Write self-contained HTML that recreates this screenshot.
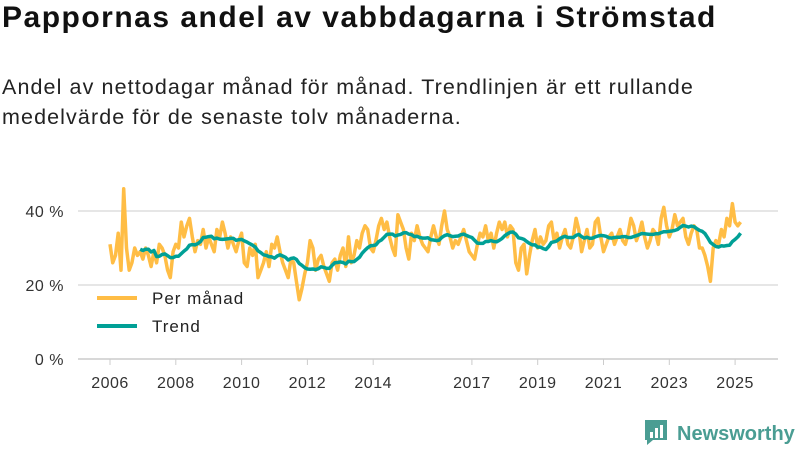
<!DOCTYPE html>
<html><head><meta charset="utf-8"><style>
body{margin:0;width:800px;height:450px;background:#fff;font-family:"Liberation Sans",sans-serif;overflow:hidden;position:relative}
#title{position:absolute;left:2px;top:1px;font-size:30px;font-weight:bold;color:#111;letter-spacing:1.5px;white-space:nowrap}
#sub{position:absolute;left:2px;top:72px;font-size:21.5px;line-height:30px;color:#222;width:770px;letter-spacing:1.1px}
svg{position:absolute;left:0;top:0}
</style></head><body>
<div id="title">Pappornas andel av vabbdagarna i Strömstad</div>
<div id="sub">Andel av nettodagar månad för månad. Trendlinjen är ett rullande<br>medelvärde för de senaste tolv månaderna.</div>
<svg id="chart" width="800" height="450"></svg>
<script>
const startYear = 2006;
const monthly = [
31,26,28,34,24,46,30,24,26,30,28,29,
27,30,28,25,29,26,31,30,28,24,22,29,
31,30,37,33,36,38,33,29,32,31,35,30,
33,31,29,35,33,37,34,30,33,31,29,32,
34,26,25,30,28,31,22,24,26,29,25,31,
30,33,29,26,24,22,27,26,21,16,19,23,
26,32,30,24,27,28,25,23,21,26,27,24,
28,30,25,33,26,28,32,30,34,36,35,30,
29,32,36,38,35,37,33,30,28,39,37,35,
30,27,34,32,36,33,31,30,29,33,36,33,
31,36,40,35,33,30,32,31,33,35,32,29,
28,27,31,34,33,36,32,34,30,34,37,35,
37,33,36,35,26,24,30,31,23,28,32,35,
30,33,31,32,36,37,32,34,30,33,35,31,
30,33,38,35,29,32,35,30,31,37,38,33,
29,31,33,34,31,33,35,32,31,34,38,36,
32,34,37,33,30,32,35,34,31,38,41,36,
33,35,39,36,37,38,33,31,34,36,35,30,
30,28,25,21,30,32,31,35,33,38,36,42,
37,36,37];
const yTicks = [0,20,40];
const xTickYears = [2006,2008,2010,2012,2014,2017,2019,2021,2023,2025];

const svg = document.getElementById('chart');
const NS = 'http://www.w3.org/2000/svg';
const xScale = t => 110 + (t - 2006) * 32.9;
const yScale = v => 359 - v * 3.7;
function mk(tag, attrs){const e=document.createElementNS(NS,tag);for(const k in attrs)e.setAttribute(k,attrs[k]);svg.appendChild(e);return e;}

yTicks.forEach(v=>{
  const g = mk('line',{x1:78,x2:778,y1:yScale(v),y2:yScale(v),stroke:v===0?'#ccc':'#ddd','stroke-width':1.5});
  
  
  const t = mk('text',{x:64,y:yScale(v)+6,'text-anchor':'end','font-size':16,fill:'#333','letter-spacing':0.5});
  t.textContent = v + ' %';
  
  
});
xTickYears.forEach(y=>{
  const l = mk('line',{x1:xScale(y),x2:xScale(y),y1:359,y2:365,stroke:'#ccc','stroke-width':1});
  
  
  const t = mk('text',{x:xScale(y),y:388,'text-anchor':'middle','font-size':16,fill:'#333','letter-spacing':0.5});
  t.textContent = y;
  
  
});

const mPts = monthly.map((v,i)=>xScale(startYear+i/12).toFixed(1)+','+yScale(v).toFixed(1)).join(' ');
const ml = mk('polyline',{points:mPts,fill:'none',stroke:'#ffbd45','stroke-width':3.5,'stroke-linejoin':'round'});



const tPts = [];
for(let i=11;i<monthly.length;i++){
  let s=0;for(let j=i-11;j<=i;j++)s+=monthly[j];
  tPts.push(xScale(startYear+i/12).toFixed(1)+','+yScale(s/12).toFixed(1));
}
const tl = mk('polyline',{points:tPts.join(' '),fill:'none',stroke:'#00a096','stroke-width':3.5,'stroke-linejoin':'round'});



[['Per månad','#ffbd45',298],['Trend','#00a096',326]].forEach(([lab,c,y])=>{
  const l = mk('line',{x1:97,x2:137,y1:y,y2:y,stroke:c,'stroke-width':4});
  
  
  const t = mk('text',{x:152,y:y+6,'font-size':17,fill:'#222','letter-spacing':1});
  t.textContent = lab;
  
  
});

const logo = mk('g',{});


const r = document.createElementNS(NS,'path');
r.setAttribute('d','M645 420 h22 v20 h-14 l-6 5 v-5 h-2 z');
r.setAttribute('fill','#4a9d93');
logo.appendChild(r);
[[650,432,3,6],[655,428,3,10],[660,425,3,13]].forEach(b=>{
  const e=document.createElementNS(NS,'rect');
  e.setAttribute('x',b[0]);e.setAttribute('y',b[1]);e.setAttribute('width',b[2]);e.setAttribute('height',b[3]);e.setAttribute('fill','#fff');
  logo.appendChild(e);
});
const lt = document.createElementNS(NS,'text');
lt.setAttribute('x',677);lt.setAttribute('y',440);lt.setAttribute('font-size',20);lt.setAttribute('font-weight','bold');lt.setAttribute('fill','#4a9d93');
lt.textContent='Newsworthy';
logo.appendChild(lt);
svg.appendChild(logo);
</script>
</body></html>
